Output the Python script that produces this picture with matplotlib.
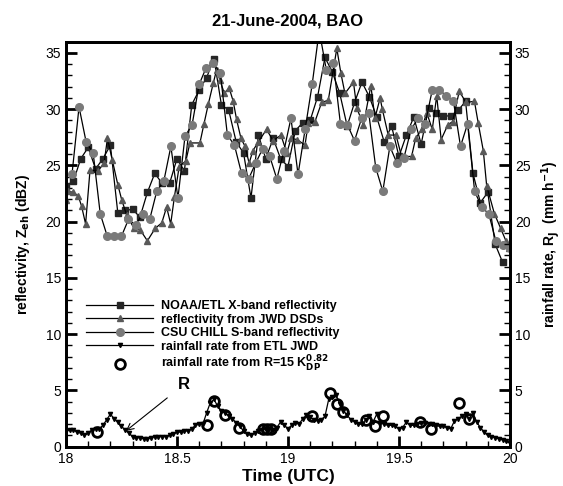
import numpy as np
import matplotlib
matplotlib.use('Agg')
import matplotlib.pyplot as plt
from matplotlib.lines import Line2D
from matplotlib.ticker import MultipleLocator

plt.rcParams['font.family'] = ['Liberation Sans', 'DejaVu Sans']

# NOAA/ETL X-band reflectivity, every 2 min from 18:00 UTC
xband_min = np.arange(0, 120, 2)
xband_dbz = [23.2, 23.6, 25.6, 26.6, 24.7, 25.6, 26.8, 20.8, 21.0, 21.1,
             20.4, 22.6, 24.3, 23.4, 23.4, 25.6, 24.5, 30.4, 31.7, 32.8,
             34.5, 30.4, 29.9, 27.1, 26.1, 22.1, 27.7, 25.6, 27.4, 25.6,
             24.9, 28.1, 28.8, 29.0, 31.1, 34.6, 33.3, 31.4, 28.5, 30.6,
             32.4, 31.1, 29.3, 27.1, 28.5, 25.8, 27.7, 29.3, 26.9, 30.1,
             29.7, 29.4, 29.4, 29.9, 30.7, 24.3, 21.7, 22.6, 18.0, 16.4]

# reflectivity computed from JWD DSDs (minutes after 18:00)
jwd_min = [0.0, 0.6, 2.0, 3.3, 4.2, 5.3, 6.5, 8.6, 10.3, 11.2,
           12.5, 14.0, 15.1, 16.4, 18.4, 20.0, 22.0, 24.1, 25.9, 27.2,
           28.3, 29.3, 30.6, 32.4, 33.5, 36.2, 37.3, 38.5, 39.8, 40.7,
           41.6, 42.8, 44.1, 45.2, 46.1, 47.3, 48.4, 49.5, 50.5, 52.0,
           54.2, 56.0, 58.1, 59.7, 60.8, 62.5, 64.6, 65.5, 67.3, 69.1,
           70.9, 73.2, 74.3, 75.4, 77.7, 78.6, 80.4, 82.4, 83.5, 84.9,
           85.5, 87.1, 89.2, 90.7, 93.4, 94.5, 96.1, 97.5, 99.0, 100.2,
           101.4, 103.2, 104.5, 106.3, 108.1, 110.4, 111.4, 112.8, 113.7,
           115.8, 117.5, 118.9, 119.8]
jwd_dbz = [21.9, 22.7, 22.6, 22.3, 21.4, 19.8, 24.6, 24.5, 25.2, 27.4,
           25.5, 23.3, 21.9, 20.6, 19.4, 19.3, 18.3, 19.4, 19.9, 21.3,
           19.8, 22.2, 24.9, 25.4, 27.0, 27.0, 28.7, 30.5, 32.3, 33.5,
           32.6, 31.4, 31.9, 30.7, 29.1, 27.4, 26.7, 25.2, 26.3, 27.1,
           28.2, 27.2, 27.7, 26.1, 27.4, 27.3, 26.8, 28.8, 28.9, 30.6,
           30.8, 35.4, 33.2, 31.4, 32.4, 30.1, 28.6, 32.1, 29.2, 31.0,
           30.0, 27.7, 27.7, 25.8, 25.8, 27.4, 28.2, 29.7, 28.2, 31.2,
           27.3, 28.6, 28.9, 31.6, 30.6, 30.7, 28.8, 26.3, 23.2,
           20.7, 19.4, 18.3, 17.7]

# CSU CHILL S-band reflectivity
chill_dbz = [24.2, 30.2, 27.1, 26.1, 20.7, 18.7, 18.7, 18.7, 20.2, 19.7,
             20.7, 20.2, 22.7, 23.6, 26.7, 22.1, 27.6, 28.6, 32.2, 33.7,
             34.1, 33.2, 27.7, 26.8, 24.3, 23.8, 25.2, 26.5, 25.8, 23.8,
             26.3, 29.2, 24.2, 28.2, 32.2, 37.0, 33.5, 34.1, 28.7, 28.6,
             27.2, 29.2, 29.7, 24.8, 22.7, 26.7, 25.2, 25.7, 28.2, 29.2,
             28.7, 31.7, 31.7, 31.2, 30.7, 26.7, 28.7, 22.7, 21.3, 20.7,
             18.3, 17.9, 17.7]
chill_start, chill_end = 18.027, 20.0

# rainfall rate from ETL JWD, 1-min
rain_min = np.arange(0, 121)
rain_jwd = [1.4, 1.5, 1.5, 1.3, 1.2, 1.0, 1.2, 1.5, 1.6, 1.6,
            1.9, 2.4, 2.9, 2.5, 2.2, 1.8, 1.5, 1.2, 0.9, 0.8,
            0.8, 0.7, 0.7, 0.8, 0.9, 0.9, 0.9, 0.9, 1.0, 1.1,
            1.3, 1.3, 1.4, 1.4, 1.6, 1.9, 2.0, 2.0, 3.0, 3.9,
            4.2, 3.6, 3.2, 3.0, 2.7, 2.5, 2.1, 1.8, 1.4, 1.1,
            1.0, 1.2, 1.4, 1.5, 1.6, 1.6, 1.5, 1.7, 2.2, 1.9,
            1.6, 1.9, 2.1, 2.0, 2.5, 2.8, 2.6, 2.4, 2.3, 2.4,
            2.7, 4.2, 4.4, 4.6, 3.8, 3.2, 2.8, 2.4, 2.2, 2.0,
            2.0, 2.4, 2.7, 2.2, 2.9, 2.1, 2.0, 1.9, 1.9, 1.8,
            1.6, 1.7, 2.2, 1.9, 1.9, 2.0, 2.1, 2.1, 2.0, 2.0,
            1.9, 1.8, 1.8, 1.7, 1.6, 2.3, 2.5, 2.7, 2.9, 2.5,
            3.0, 2.2, 1.7, 1.3, 1.0, 0.9, 0.8, 0.7, 0.6, 0.5,
            0.3]

# rainfall rate from R = 15 Kdp^0.82
kdp_time = [18.138, 18.634, 18.667, 18.716, 18.779, 18.887, 18.905, 18.923,
            19.107, 19.189, 19.219, 19.249, 19.351, 19.392, 19.427,
            19.595, 19.643, 19.770, 19.817]
kdp_rain = [1.3, 1.9, 4.1, 2.8, 1.7, 1.6, 1.6, 1.6,
            2.7, 4.8, 3.8, 3.1, 2.4, 1.8, 2.7,
            2.2, 1.6, 3.9, 2.5]

t_xband = 18 + xband_min / 60.0
t_jwd = 18 + np.array(jwd_min) / 60.0
t_chill = np.linspace(chill_start, chill_end, len(chill_dbz))
t_rain = 18 + rain_min / 60.0

c_sq = '#262626'
c_tri = '#595959'
c_circ = '#7a7a7a'

fig = plt.figure(figsize=(5.63, 4.86), dpi=100)
ax = fig.add_axes([0.1172, 0.0809, 0.7886, 0.8333])

ax.plot(t_xband, xband_dbz, '-', color='k', lw=0.9, marker='s',
        mfc=c_sq, mec=c_sq, ms=5)
ax.plot(t_jwd, jwd_dbz, '-', color='k', lw=0.9, marker='^',
        mfc=c_tri, mec=c_tri, ms=4)
ax.plot(t_chill, chill_dbz, '-', color='k', lw=0.9, marker='o',
        mfc=c_circ, mec=c_circ, ms=5.5)

ax.set_xlim(18, 20)
ax.set_ylim(0, 36)

ax2 = ax.twinx()
ax2.set_ylim(0, 36)
ax2.plot(t_rain, rain_jwd, '-', color='k', lw=0.9, marker='v',
         mfc='k', mec='k', ms=3)
ax2.plot(kdp_time, kdp_rain, ls='none', marker='o', mfc='none',
         mec='k', mew=2, ms=7)

ax2.annotate('R', xy=(18.27, 1.4), xytext=(18.53, 5.5),
             fontsize=12, fontweight='bold', ha='center', va='center',
             arrowprops=dict(arrowstyle='->', color='k', lw=0.8,
                             shrinkA=7, shrinkB=0))

for a in (ax, ax2):
    for s in a.spines.values():
        s.set_linewidth(2)
    a.yaxis.set_major_locator(MultipleLocator(5))
    a.yaxis.set_minor_locator(MultipleLocator(1))
    a.tick_params(axis='y', which='major', direction='in', length=8,
                  width=2, labelsize=10)
    a.tick_params(axis='y', which='minor', direction='in', length=4,
                  width=1)

ax.xaxis.set_major_locator(MultipleLocator(0.5))
ax.xaxis.set_minor_locator(MultipleLocator(0.1))
ax.tick_params(axis='x', which='major', direction='in', length=8, width=2,
               labelsize=10, pad=4)
ax.tick_params(axis='x', which='minor', direction='in', length=4, width=1)
ax.set_xticks([18, 18.5, 19, 19.5, 20])
ax.set_xticklabels(['18', '18.5', '19', '19.5', '20'])

ax.set_xlabel('Time (UTC)', fontsize=12.5, fontweight='bold', labelpad=2)
ax.set_ylabel('reflectivity, Z$_{\\mathbf{eh}}$ (dBZ)', fontsize=10,
              fontweight='bold', labelpad=10)
ax2.set_ylabel('rainfall rate, R$_{\\mathbf{J}}$  (mm h$^{\\mathbf{-1}}$)',
               fontsize=10, fontweight='bold', labelpad=6)
ax.set_title('21-June-2004, BAO', fontsize=12, fontweight='bold', pad=12)

handles = [
    Line2D([], [], color='k', lw=0.9, marker='s', mfc=c_sq, mec=c_sq, ms=5),
    Line2D([], [], color='k', lw=0.9, marker='^', mfc=c_tri, mec=c_tri, ms=4),
    Line2D([], [], color='k', lw=0.9, marker='o', mfc=c_circ, mec=c_circ, ms=5.5),
    Line2D([], [], color='k', lw=0.9, marker='v', mfc='k', mec='k', ms=3),
    Line2D([], [], ls='none', marker='o', mfc='none', mec='k', mew=2, ms=7),
]
labels = ['NOAA/ETL X-band reflectivity',
          'reflectivity from JWD DSDs',
          'CSU CHILL S-band reflectivity',
          'rainfall rate from ETL JWD',
          'rainfall rate from R=15 K$_{\\mathbf{DP}}^{\\mathbf{0.82}}$']
ax2.legend(handles, labels, loc='upper left', bbox_to_anchor=(0.045, 0.362),
           frameon=False, prop={'weight': 'bold', 'size': 9},
           handlelength=5.4, handletextpad=0.6, labelspacing=0.12,
           borderpad=0, borderaxespad=0)

fig.savefig('out.png', dpi=100)
